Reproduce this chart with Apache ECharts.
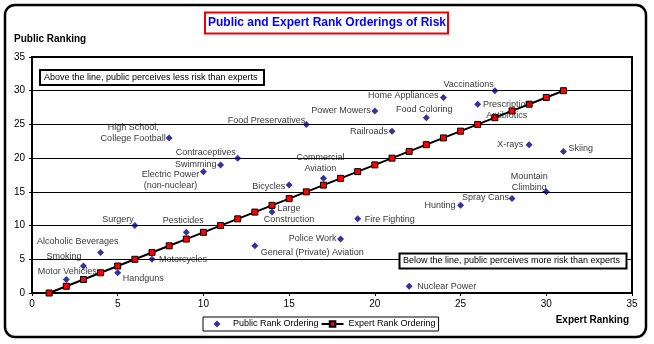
<!DOCTYPE html>
<html><head><meta charset="utf-8">
<script src="https://cdn.jsdelivr.net/npm/echarts@6/dist/echarts.min.js"></script>
<style>html,body{margin:0;padding:0;background:#fff}#c{width:654px;height:344px}</style>
</head><body><div id="c"></div>
<script>
// ---- data ----
const riskNames = ['Motor Vehicles','Smoking','Alcoholic Beverages','Handguns','Surgery','Motorcycles',
  'High School,\nCollege Football','Pesticides','Electric Power\n(non-nuclear)','Swimming','Contraceptives',
  'General (Private) Aviation','Large\nConstruction','Bicycles','Food Preservatives','Commercial\nAviation',
  'Police Work','Fire Fighting','Power Mowers','Railroads','Nuclear Power','Food Coloring','Home Appliances',
  'Hunting','Prescription\nAntibiotics','Vaccinations','Spray Cans','X-rays','Mountain\nClimbing','Skiing'];
const expertRank = [2,3,4,5,6,7,8,9,10,11,12,13,14,15,16,17,18,19,20,21,22,23,24,25,26,27,28,29,30,31];
const publicRank = [2,4,6,3,10,5,23,9,18,19,20,7,12,16,25,17,8,11,27,24,1,26,29,13,28,30,14,22,15,21];
const expertLineX = [1,2,3,4,5,6,7,8,9,10,11,12,13,14,15,16,17,18,19,20,21,22,23,24,25,26,27,28,29,30,31];
const expertLineY = [0,1,2,3,4,5,6,7,8,9,10,11,12,13,14,15,16,17,18,19,20,21,22,23,24,25,26,27,28,29,30];
const axisTicks = [0,5,10,15,20,25,30,35];

// ---- label placement (layout only) ----
const labelPlace = {
  'Motor Vehicles':['center',1,-8], 'Smoking':['right',-2,-10], 'Alcoholic Beverages':['right',18,-11],
  'Handguns':['left',5,6], 'Surgery':['right',-1,-6], 'Motorcycles':['left',7,0],
  'High School,\nCollege Football':['center',-36,-5], 'Pesticides':['center',-3,-12],
  'Electric Power\n(non-nuclear)':['center',-33,8], 'Swimming':['right',-4,0], 'Contraceptives':['right',-2,-6],
  'General (Private) Aviation':['left',6,7], 'Large\nConstruction':['center',17,2], 'Bicycles':['right',-4,1],
  'Food Preservatives':['right',-1,-4], 'Commercial\nAviation':['center',-3,-15], 'Police Work':['right',-4,-1],
  'Fire Fighting':['left',7,1], 'Power Mowers':['right',-4,0], 'Railroads':['right',-4,0],
  'Nuclear Power':['left',8,0], 'Food Coloring':['center',-2,-8], 'Home Appliances':['right',-5,-2],
  'Hunting':['right',-5,0], 'Prescription\nAntibiotics':['center',29,6], 'Vaccinations':['right',-1,-6],
  'Spray Cans':['right',-3,-1], 'X-rays':['right',-6,0], 'Mountain\nClimbing':['center',-17,-10], 'Skiing':['left',5,-3]
};

const FF = "'Liberation Sans',Arial,sans-serif";
const FS = 9;

const publicData = riskNames.map((n,i)=>{
  const p = labelPlace[n];
  return {name:n, value:[expertRank[i], publicRank[i]],
    label:{show:true, position:'inside', align:p[0], verticalAlign:'middle', offset:[p[1],p[2]],
      formatter:'{b}', color:'#000', fontSize:FS, fontFamily:FF, lineHeight:11, textBorderWidth:0}};
});
const expertData = expertLineX.map((x,i)=>[x, expertLineY[i]]);

const chart = echarts.init(document.getElementById('c'), null, {renderer:'canvas'});
chart.setOption({
  animation:false,
  backgroundColor:'#fff',
  grid:{left:32, right:22, top:57, bottom:51, show:true, borderColor:'#000', borderWidth:2, backgroundColor:'transparent'},
  xAxis:{type:'value', min:axisTicks[0], max:axisTicks[axisTicks.length-1], interval:5,
    axisLine:{show:true, lineStyle:{color:'#000', width:2}}, axisTick:{show:true, length:3, lineStyle:{color:'#000'}},
    splitLine:{show:false}, axisLabel:{color:'#000', fontSize:FS+1, fontFamily:FF, margin:6}},
  yAxis:{type:'value', min:axisTicks[0], max:axisTicks[axisTicks.length-1], interval:5,
    axisLine:{show:true, lineStyle:{color:'#000', width:2}}, axisTick:{show:true, length:3, lineStyle:{color:'#000'}},
    splitLine:{show:true, lineStyle:{color:'#000', width:1}}, axisLabel:{color:'#000', fontSize:FS+1, fontFamily:FF, margin:7}},
  legend:{left:203, top:317, padding:[2,3], itemGap:2, itemWidth:22, itemHeight:7, symbolKeepAspect:true,
    borderColor:'#000', borderWidth:1, backgroundColor:'#fff',
    textStyle:{color:'#000', fontSize:FS, fontFamily:FF, lineHeight:10},
    data:[{name:'Public Rank Ordering', icon:'path://M0,0M22,7M11,0L14.5,3.5L11,7L7.5,3.5Z'},{name:'Expert Rank Ordering'}]},
  series:[
    {name:'Public Rank Ordering', type:'scatter', symbol:'diamond', symbolSize:7,
      itemStyle:{color:'#000080'}, data:publicData, z:3, emphasis:{disabled:true}},
    {name:'Expert Rank Ordering', type:'line', symbol:'rect', symbolSize:6, showSymbol:true,
      lineStyle:{color:'#000', width:2}, itemStyle:{color:'#ff0000', borderColor:'#000', borderWidth:1},
      data:expertData, z:2, emphasis:{disabled:true}}
  ],
  graphic:[
    {type:'rect', shape:{x:5, y:5, width:641, height:332, r:10}, style:{fill:'none', stroke:'#000', lineWidth:2.5}, z:100},
    {type:'rect', shape:{x:205, y:12.5, width:243, height:21}, style:{fill:'#fff', stroke:'#ee0000', lineWidth:2}, z:100},
    {type:'text', x:327, y:23, style:{text:'Public and Expert Rank Orderings of Risk', fill:'#0000ff', font:'bold 12px '+FF, textAlign:'center', textVerticalAlign:'middle'}, z:101},
    {type:'text', x:14, y:39, style:{text:'Public Ranking', fill:'#000', font:'bold 10px '+FF, textAlign:'left', textVerticalAlign:'middle'}, z:101},
    {type:'text', x:629, y:320, style:{text:'Expert Ranking', fill:'#000', font:'bold 10px '+FF, textAlign:'right', textVerticalAlign:'middle'}, z:101},
    {type:'rect', shape:{x:40, y:70, width:224, height:15}, style:{fill:'#fff', stroke:'#000', lineWidth:2}, z:100},
    {type:'text', x:44, y:77.5, style:{text:'Above the line, public perceives less risk than experts', fill:'#000', font:FS+'px '+FF, textAlign:'left', textVerticalAlign:'middle'}, z:101},
    {type:'rect', shape:{x:399.5, y:253.5, width:227, height:15}, style:{fill:'#fff', stroke:'#000', lineWidth:2}, z:100},
    {type:'text', x:403, y:261, style:{text:'Below the line, public perceives more risk than experts', fill:'#000', font:FS+'px '+FF, textAlign:'left', textVerticalAlign:'middle'}, z:101}
  ]
});
</script></body></html>
